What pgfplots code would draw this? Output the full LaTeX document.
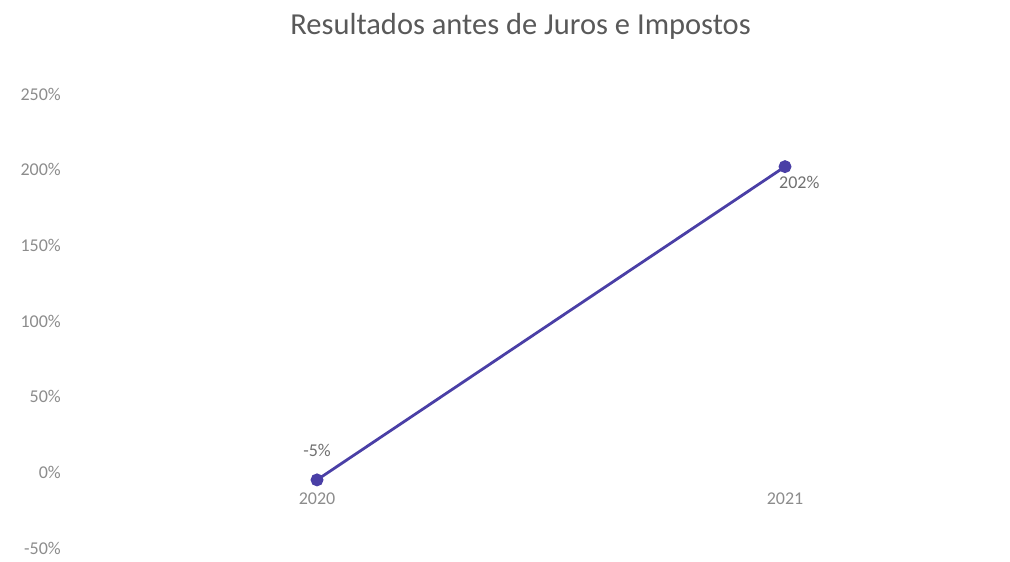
\documentclass[border=0pt]{standalone}
\usepackage{fontspec}
\setmainfont{Carlito}
\usepackage{pgfplots}
\pgfplotsset{compat=1.18}
\definecolor{linec}{HTML}{4A3FA6}
\definecolor{tickc}{HTML}{8C8C8C}
\definecolor{titlec}{HTML}{595959}
\begin{document}
\begin{tikzpicture}[x=1bp,y=1bp]
\useasboundingbox (0,0) rectangle (1010,562);
\begin{axis}[
  at={(83bp,14bp)}, anchor=south west,
  scale only axis, width=936bp, height=454bp,
  xmin=-0.5, xmax=1.5, ymin=-50, ymax=250,
  clip=false,
  axis line style={draw=none},
  major tick length=0pt,
  xtick={0,1}, xticklabels={2020,2021},
  ytick={-50,0,50,100,150,200,250},
  yticklabel={\pgfmathprintnumber{\tick}\%},
  /pgf/number format/assume math mode=true,
  tick label style={font=\fontsize{18bp}{20bp}\selectfont, text=tickc, inner sep=0pt},
  yticklabel style={anchor=east, xshift=-22bp},
  xticklabel style={anchor=north, yshift=55bp},
  title={Resultados antes de Juros e Impostos},
  title style={at={(0.4675,1)}, anchor=base, yshift=54bp, inner sep=0pt,
    font=\fontsize{30.5bp}{33bp}\selectfont, text=titlec},
]
\addplot[color=linec, line width=2.8bp, mark=*, mark size=5bp, mark options={fill=linec, draw=linec}]
  coordinates {(0,-5) (1,202)};
\addplot[draw=none, nodes near coords, point meta=explicit symbolic,
  nodes near coords style={anchor=center, yshift=29bp, inner sep=0pt, text=tickc!80!black, font=\fontsize{18bp}{20bp}\selectfont}]
  coordinates {(0,-5) [-5\%]};
\addplot[draw=none, nodes near coords, point meta=explicit symbolic,
  nodes near coords style={anchor=north west, xshift=-6bp, yshift=-9bp, inner sep=0pt, text=tickc!80!black, font=\fontsize{18bp}{20bp}\selectfont}]
  coordinates {(1,202) [202\%]};
\end{axis}
\end{tikzpicture}
\end{document}
